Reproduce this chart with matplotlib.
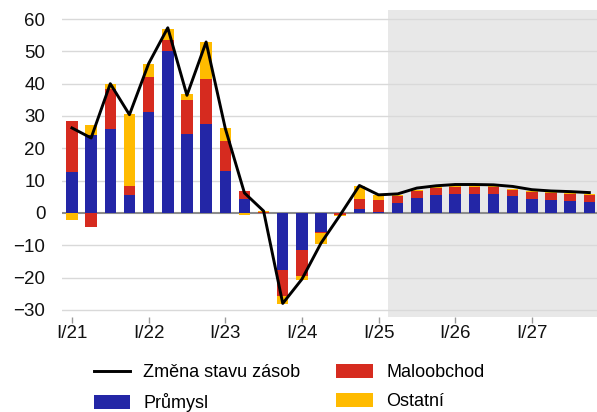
import numpy as np
import matplotlib
matplotlib.use('Agg')
import matplotlib.pyplot as plt
from matplotlib.lines import Line2D
from matplotlib.patches import Patch

# ── Colours ──────────────────────────────────────────────
BLUE   = '#2326A6'
RED    = '#D62B1F'
YELLOW = '#FFBB00'
SHADE  = '#E8E8E8'
GRID   = '#D9D9D9'
AXIS   = '#8C8C8C'

plt.rcParams['font.family'] = ['Liberation Sans', 'DejaVu Sans']

# ── Data (quarters I/21 .. IV/27) ────────────────────────
quarters = [f'{q}/{y}' for y in range(21, 28) for q in ['I', 'II', 'III', 'IV']]
prumysl    = [12.6, 24.0, 25.9, 5.5, 31.1, 50.0, 24.3, 27.6, 12.9, 4.2, 0.0, -17.7, -11.5, -5.9,
              0.0, 1.1, 0.3, 3.0, 4.5, 5.4, 5.8, 5.8, 5.8, 5.2, 4.2, 4.0, 3.6, 3.3]
maloobchod = [15.8, -4.3, 12.3, 2.9, 10.9, 3.4, 10.6, 13.8, 9.3, 2.5, 0.2, -8.1, -8.0, -0.2,
              -0.7, 3.2, 3.6, 2.3, 2.4, 2.2, 2.1, 2.1, 2.1, 2.0, 2.3, 2.1, 2.2, 2.1]
ostatni    = [-2.3, 3.1, 1.8, 22.1, 4.0, 3.6, 1.8, 11.4, 4.0, -0.5, 0.4, -2.4, -1.3, -3.4,
              -0.4, 4.0, 1.5, 0.3, 0.3, 0.3, 0.3, 0.3, 0.3, 0.3, 0.3, 0.3, 0.3, 0.6]
zmena      = [26.3, 23.2, 40.0, 30.4, 46.2, 57.3, 36.4, 52.9, 26.2, 6.2, 0.6, -28.0, -20.5, -9.3,
              -0.6, 8.5, 5.6, 5.9, 7.7, 8.4, 8.8, 8.8, 8.7, 8.2, 7.2, 6.8, 6.6, 6.3]
forecast_start = 'II/25'
yticks = [-30, -20, -10, 0, 10, 20, 30, 40, 50, 60]

x = np.arange(len(quarters))

fig = plt.figure(figsize=(5.97, 4.12), dpi=100)
ax = fig.add_axes([62 / 597, 1 - 317 / 412, 1 - 62 / 597, (317 - 10) / 412])

# forecast shading
fs = quarters.index(forecast_start)
ax.axvspan(fs - 0.5, len(quarters) + 1, color=SHADE, zorder=0, lw=0)

for yv in yticks:
    if yv != 0:
        ax.axhline(yv, color=GRID, lw=1.0, zorder=0.5)
ax.axhline(0, color=AXIS, lw=1.5, zorder=1.5)

# stacked bars, positives up and negatives down
pos = np.zeros(len(x))
neg = np.zeros(len(x))
for vals, col in [(prumysl, BLUE), (maloobchod, RED), (ostatni, YELLOW)]:
    v = np.array(vals)
    bottom = np.where(v >= 0, pos, neg)
    ax.bar(x, v, bottom=bottom, width=0.6, color=col, zorder=2, lw=0)
    pos += np.where(v >= 0, v, 0)
    neg += np.where(v < 0, v, 0)

ax.plot(x, zmena, color='black', lw=2.1, zorder=3)

ax.set_xlim(-0.52, 27.4)
ax.set_ylim(-32.2, 62.8)
ax.set_yticks(yticks)
ax.set_xticks(x[::4])
ax.set_xticklabels(quarters[::4])
ax.tick_params(axis='y', length=0, pad=12, labelsize=13.5, colors='#111111')
ax.tick_params(axis='x', length=4, width=1, color='#999999', pad=2,
               labelsize=13.5, labelcolor='#111111')
for s in ax.spines.values():
    s.set_visible(False)

handles = [
    Line2D([], [], color='black', lw=2.1),
    Patch(facecolor=BLUE, lw=0),
    Patch(facecolor=RED, lw=0),
    Patch(facecolor=YELLOW, lw=0),
]
labels = ['Změna stavu zásob', 'Průmysl', 'Maloobchod', 'Ostatní']
fig.legend(handles, labels, ncol=2, loc='center', frameon=False,
           bbox_to_anchor=(289 / 597, 1 - 388 / 412), fontsize=13,
           handlelength=2.0, handleheight=0.8, handletextpad=0.75,
           columnspacing=2.0, labelspacing=0.65)

fig.savefig('out.png', dpi=100)
